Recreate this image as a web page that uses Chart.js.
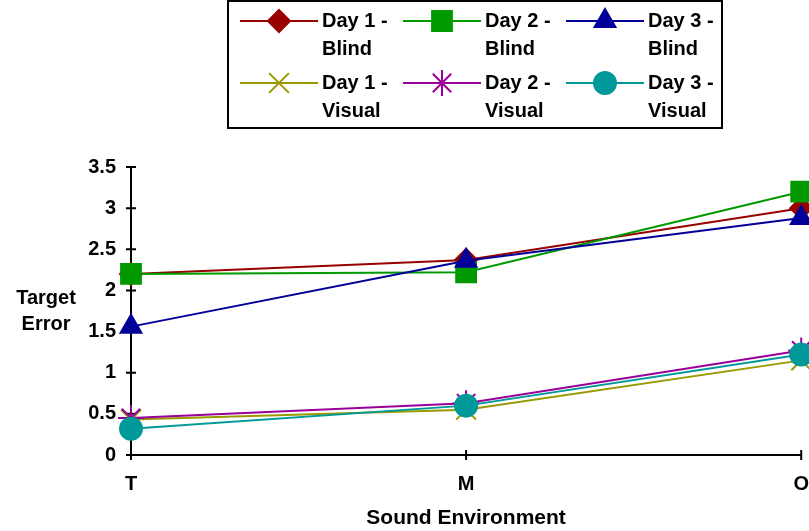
<!DOCTYPE html>
<html lang="en">
<head>
    <meta charset="UTF-8">
    <title>Target Error by Sound Environment</title>
    <style>
        body {
            margin: 0;
            background-color: #ffffff;
        }
        .chart-container {
            position: relative;
            width: 809px;
            height: 531px;
        }
    </style>
</head>
<body>
    <div class="chart-container">
        <canvas id="errorChart" width="809" height="531"></canvas>
    </div>

    <script src="https://cdn.jsdelivr.net/npm/chart.js"></script>
    <script>
        // Sound environments on the x axis
        const categories = ['T', 'M', 'O'];

        // Mean target error per day and condition
        const day1Blind = [2.2, 2.37, 3.0];
        const day2Blind = [2.2, 2.22, 3.2];
        const day3Blind = [1.56, 2.36, 2.88];
        const day1Visual = [0.43, 0.55, 1.15];
        const day2Visual = [0.45, 0.63, 1.27];
        const day3Visual = [0.32, 0.6, 1.22];

        const seriesLabels = [
            ['Day 1 -', 'Blind'], ['Day 2 -', 'Blind'], ['Day 3 -', 'Blind'],
            ['Day 1 -', 'Visual'], ['Day 2 -', 'Visual'], ['Day 3 -', 'Visual']
        ];
        const seriesData = [day1Blind, day2Blind, day3Blind, day1Visual, day2Visual, day3Visual];
        const seriesColors = ['#990000', '#009900', '#000099', '#999900', '#990099', '#009999'];
        const seriesMarkers = ['rectRot', 'rect', 'triangle', 'crossRot', 'star', 'circle'];
        const markerSizes = [11, 14, 12, 14, 13, 11];

        const yMin = 0;
        const yMax = 3.5;
        const yStep = 0.5;

        const FONT = 'bold 20px "Liberation Sans", Arial, sans-serif';

        Chart.defaults.font.family = '"Liberation Sans", Arial, sans-serif';
        Chart.defaults.font.size = 20;
        Chart.defaults.font.weight = 'bold';
        Chart.defaults.color = '#000000';

        // Small tick marks that cross the axis lines
        const crossTicks = {
            id: 'crossTicks',
            beforeDatasetsDraw(chart) {
                const ctx = chart.ctx;
                const area = chart.chartArea;
                const xs = chart.scales.x;
                const ys = chart.scales.y;
                ctx.save();
                ctx.strokeStyle = '#000000';
                ctx.lineWidth = 2;
                ctx.beginPath();
                ys.ticks.forEach(t => {
                    const y = ys.getPixelForValue(t.value);
                    ctx.moveTo(area.left - 5, y);
                    ctx.lineTo(area.left + 5, y);
                });
                categories.forEach((c, i) => {
                    const x = xs.getPixelForValue(i);
                    ctx.moveTo(x, area.bottom - 5);
                    ctx.lineTo(x, area.bottom + 5);
                });
                ctx.stroke();
                ctx.restore();
            }
        };

        // Boxed two-row legend and the horizontal y axis caption
        const boxLegend = {
            id: 'boxLegend',
            afterDraw(chart) {
                const ctx = chart.ctx;
                const area = chart.chartArea;
                ctx.save();

                ctx.font = FONT;
                ctx.fillStyle = '#000000';
                ctx.textAlign = 'center';
                ctx.textBaseline = 'middle';
                const midY = (area.top + area.bottom) / 2;
                ctx.fillText('Target', 46, midY - 13);
                ctx.fillText('Error', 46, midY + 13);

                ctx.lineWidth = 2;
                ctx.strokeStyle = '#000000';
                ctx.strokeRect(228, 1, 494, 127);

                chart.data.datasets.forEach((ds, i) => {
                    const col = i % 3;
                    const row = Math.floor(i / 3);
                    const x0 = 240 + col * 163;
                    const y0 = 21 + row * 62;

                    ctx.strokeStyle = ds.borderColor;
                    ctx.lineWidth = 2;
                    ctx.beginPath();
                    ctx.moveTo(x0, y0);
                    ctx.lineTo(x0 + 78, y0);
                    ctx.stroke();

                    ctx.fillStyle = ds.pointBackgroundColor;
                    ctx.strokeStyle = ds.pointBorderColor;
                    Chart.helpers.drawPoint(ctx, {
                        pointStyle: ds.pointStyle,
                        radius: ds.pointRadius,
                        rotation: 0,
                        borderWidth: ds.pointBorderWidth
                    }, x0 + 39, y0);

                    ctx.fillStyle = '#000000';
                    ctx.textAlign = 'left';
                    ctx.fillText(seriesLabels[i][0], x0 + 82, y0);
                    ctx.fillText(seriesLabels[i][1], x0 + 82, y0 + 28);
                });
                ctx.restore();
            }
        };

        const datasets = seriesData.map((values, i) => ({
            label: seriesLabels[i].join(' '),
            data: values,
            borderColor: seriesColors[i],
            backgroundColor: seriesColors[i],
            borderWidth: 2,
            pointStyle: seriesMarkers[i],
            pointRadius: markerSizes[i],
            pointHoverRadius: markerSizes[i],
            pointBackgroundColor: seriesColors[i],
            pointBorderColor: seriesColors[i],
            pointBorderWidth: 2,
            tension: 0,
            clip: false,
            order: seriesData.length - i
        }));

        new Chart(document.getElementById('errorChart'), {
            type: 'line',
            data: {
                labels: categories,
                datasets: datasets
            },
            options: {
                responsive: false,
                animation: false,
                layout: {
                    autoPadding: false,
                    padding: { top: 167, left: 0, right: 0, bottom: 0 }
                },
                plugins: {
                    legend: { display: false },
                    tooltip: { enabled: false }
                },
                scales: {
                    x: {
                        offset: false,
                        // invisible tick marks keep the labels away from the axis
                        grid: {
                            display: true,
                            drawOnChartArea: false,
                            drawTicks: true,
                            tickLength: 17,
                            tickColor: 'rgba(0,0,0,0)'
                        },
                        border: { display: true, color: '#000000', width: 2 },
                        ticks: { padding: 0, maxRotation: 0, autoSkip: false },
                        title: {
                            display: true,
                            text: 'Sound Environment',
                            font: { size: 21, weight: 'bold' },
                            padding: { top: 4, bottom: 0 }
                        },
                        afterFit(scale) {
                            scale.height = 76;
                        }
                    },
                    y: {
                        min: yMin,
                        max: yMax,
                        grid: { display: true, drawOnChartArea: false, drawTicks: false },
                        border: { display: true, color: '#000000', width: 2 },
                        ticks: {
                            stepSize: yStep,
                            padding: 15,
                            callback: value => String(value)
                        },
                        afterFit(scale) {
                            scale.width = 131;
                        }
                    }
                }
            },
            plugins: [crossTicks, boxLegend]
        });
    </script>
</body>
</html>
